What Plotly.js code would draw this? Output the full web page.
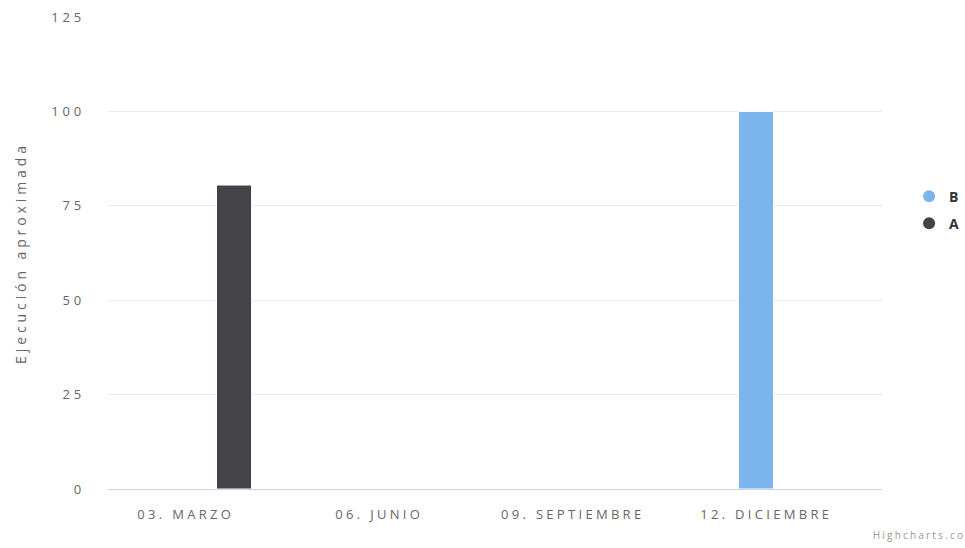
<!DOCTYPE html>
<html>
<head>
<meta charset="utf-8">
<script src="https://cdn.plot.ly/plotly-3.0.1.min.js"></script>
<style>
html,body{margin:0;padding:0;background:#fff;}
#chart{width:965px;height:548px;}
#chart g.xtick text{letter-spacing:3.3px;}
#chart g.ytick text{letter-spacing:3.8px;}
#chart text.ytitle{letter-spacing:3.9px;}
#chart g.annotation-text-g text{letter-spacing:2.2px;}
</style>
</head>
<body>
<div id="chart"></div>
<script>
// Data
const categories = ["03. MARZO", "06. JUNIO", "09. SEPTIEMBRE", "12. DICIEMBRE"];
const seriesNames = ["B", "A"];
const seriesColors = ["#7cb5ec", "#434348"];
const valuesB = [null, null, null, 100];
const valuesA = [80.5, null, null, null];
const yTicks = [0, 25, 50, 75, 100, 125];
const yTitle = "Ejecución aproximada";
const credits = "Highcharts.co";

const font = "'Open Sans', 'DejaVu Sans', sans-serif";

const traces = [
  {type: "bar", x: categories, y: valuesB, name: seriesNames[0], legendgroup: "b",
   marker: {color: seriesColors[0], line: {color: "#ffffff", width: 1}}, showlegend: false, hoverinfo: "y"},
  {type: "bar", x: categories, y: valuesA, name: seriesNames[1], legendgroup: "a",
   marker: {color: seriesColors[1], line: {color: "#ffffff", width: 1}}, showlegend: false, hoverinfo: "y"},
  // legend entries (circle symbols, as in the reference)
  {type: "scatter", mode: "markers", x: [null], y: [null], name: seriesNames[0], legendgroup: "b",
   marker: {color: seriesColors[0], size: 17, symbol: "circle"}},
  {type: "scatter", mode: "markers", x: [null], y: [null], name: seriesNames[1], legendgroup: "a",
   marker: {color: seriesColors[1], size: 17, symbol: "circle"}}
];

const layout = {
  width: 965, height: 548,
  margin: {l: 108, r: 83, t: 17, b: 59, pad: 0, autoexpand: false},
  paper_bgcolor: "#ffffff", plot_bgcolor: "#ffffff",
  font: {family: font, size: 13, color: "#666666"},
  barmode: "group", bargap: 0.395, bargroupgap: 0.4,
  showlegend: true,
  legend: {x: 1.035, xanchor: "left", y: 0.591, yanchor: "middle",
           font: {family: font, size: 14, color: "#333333", weight: "bold"},
           itemsizing: "constant", tracegroupgap: 6, traceorder: "grouped", bgcolor: "rgba(0,0,0,0)"},
  xaxis: {type: "category", tickmode: "array", tickvals: categories, ticktext: categories,
          showgrid: false, zeroline: false, showline: true, linecolor: "#ccd6eb", linewidth: 1,
          ticks: "", ticklabelstandoff: 13, ticklabelshift: -19,
          tickfont: {family: font, size: 13, color: "#666666"}, fixedrange: true},
  yaxis: {range: [0, 125], tickmode: "array", tickvals: yTicks, showgrid: true, gridcolor: "#e9e9e9",
          gridwidth: 1, zeroline: false, showline: false, ticks: "", ticklabelstandoff: 22,
          tickfont: {family: font, size: 13, color: "#666666"},
          title: {text: yTitle, standoff: 32, font: {family: font, size: 14, color: "#666666"}}, fixedrange: true},
  annotations: [
    {text: credits, xref: "paper", yref: "paper", x: 1.0035, y: -0.0975, xanchor: "left", yanchor: "middle",
     showarrow: false, font: {family: font, size: 10, color: "#999999"}}
  ]
};

Plotly.newPlot("chart", traces, layout, {displayModeBar: false, staticPlot: true});
</script>
</body>
</html>
